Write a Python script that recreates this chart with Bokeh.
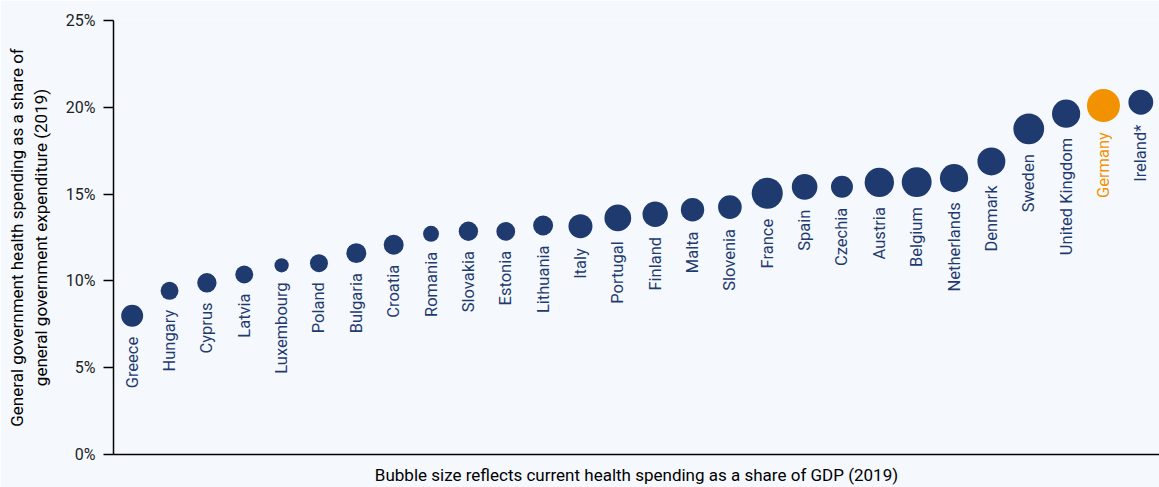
import math
from bokeh.plotting import figure
from bokeh.models import ColumnDataSource, FixedTicker, PrintfTickFormatter, Range1d
from bokeh.core.properties import value
from bokeh.embed import file_html
from bokeh.resources import INLINE

countries = ["Greece", "Hungary", "Cyprus", "Latvia", "Luxembourg", "Poland", "Bulgaria",
             "Croatia", "Romania", "Slovakia", "Estonia", "Lithuania", "Italy", "Portugal",
             "Finland", "Malta", "Slovenia", "France", "Spain", "Czechia", "Austria",
             "Belgium", "Netherlands", "Denmark", "Sweden", "United Kingdom", "Germany", "Ireland*"]
# General government health spending as share of general government expenditure (%)
gov_share = [7.99, 9.43, 9.89, 10.37, 10.9, 11.02, 11.6, 12.08, 12.71, 12.86, 12.85, 13.19,
             13.15, 13.63, 13.84, 14.1, 14.25, 15.05, 15.42, 15.42, 15.67, 15.69, 15.92,
             16.88, 18.76, 19.63, 20.1, 20.29]
# Current health spending as share of GDP (%) -> bubble size
gdp_share = [7.7, 6.3, 6.8, 6.3, 5.0, 6.3, 7.0, 7.0, 5.6, 6.8, 6.6, 7.0, 8.4, 9.4, 8.9, 8.2,
             8.3, 10.9, 9.0, 7.7, 10.3, 10.5, 9.9, 9.8, 10.8, 9.9, 11.6, 8.7]
y_ticks = [0, 5, 10, 15, 20, 25]

NAVY = "#1F3A6F"
ORANGE = "#F39200"
BG = "#F5F9FE"
FONT = "Roboto"
SCALE = 2.85  # px of diameter per % of GDP

colors = [ORANGE if c == "Germany" else NAVY for c in countries]
sizes = [SCALE * v for v in gdp_share]
offsets = [s / 2 + 10 for s in sizes]

src = ColumnDataSource(dict(x=list(range(len(countries))), y=gov_share, name=countries,
                            color=colors, size=sizes, off=offsets))

p = figure(width=1159, height=487, output_backend="svg", toolbar_location=None,
           x_range=Range1d(-0.5, 27.5), y_range=Range1d(0, 25),
           min_border_left=113, min_border_right=0, min_border_top=20, min_border_bottom=0)
p.background_fill_color = BG
p.border_fill_color = BG
p.outline_line_color = None
p.grid.visible = False

p.scatter("x", "y", source=src, size="size", fill_color="color", line_color=None)
p.text("x", "y", text="name", source=src, angle=math.pi / 2, y_offset="off",
       text_align="right", text_baseline="middle", text_color="color",
       text_font=value(FONT), text_font_size="16.5px")

ya = p.yaxis[0]
ya.ticker = FixedTicker(ticks=y_ticks)
ya.formatter = PrintfTickFormatter(format="%d%%")
ya.minor_tick_line_color = None
ya.major_tick_in = 0
ya.major_tick_out = 10
ya.major_tick_line_width = 1.5
ya.major_tick_line_color = "black"
ya.axis_line_width = 1.5
ya.axis_line_color = "black"
ya.major_label_text_font = FONT
ya.major_label_text_font_size = "16px"
ya.major_label_text_color = "#222222"
ya.major_label_standoff = 8
ya.axis_label = "General government health spending as a share of\ngeneral government expenditure (2019)"
ya.axis_label_text_font = FONT
ya.axis_label_text_font_size = "17px"
ya.axis_label_text_font_style = "normal"
ya.axis_label_text_color = "black"
ya.axis_label_standoff = 12

xa = p.xaxis[0]
xa.ticker = FixedTicker(ticks=[])
xa.major_tick_line_color = None
xa.minor_tick_line_color = None
xa.major_tick_out = 0
xa.major_tick_in = 0
xa.major_label_standoff = 0
xa.major_label_text_font_size = "0px"
xa.axis_line_width = 1.5
xa.axis_line_color = "black"
xa.axis_label = "Bubble size reflects current health spending as a share of GDP (2019)"
xa.axis_label_text_font = FONT
xa.axis_label_text_font_size = "17px"
xa.axis_label_text_font_style = "normal"
xa.axis_label_text_color = "black"
xa.axis_label_standoff = 10

open("out.html", "w").write(file_html(p, INLINE))
